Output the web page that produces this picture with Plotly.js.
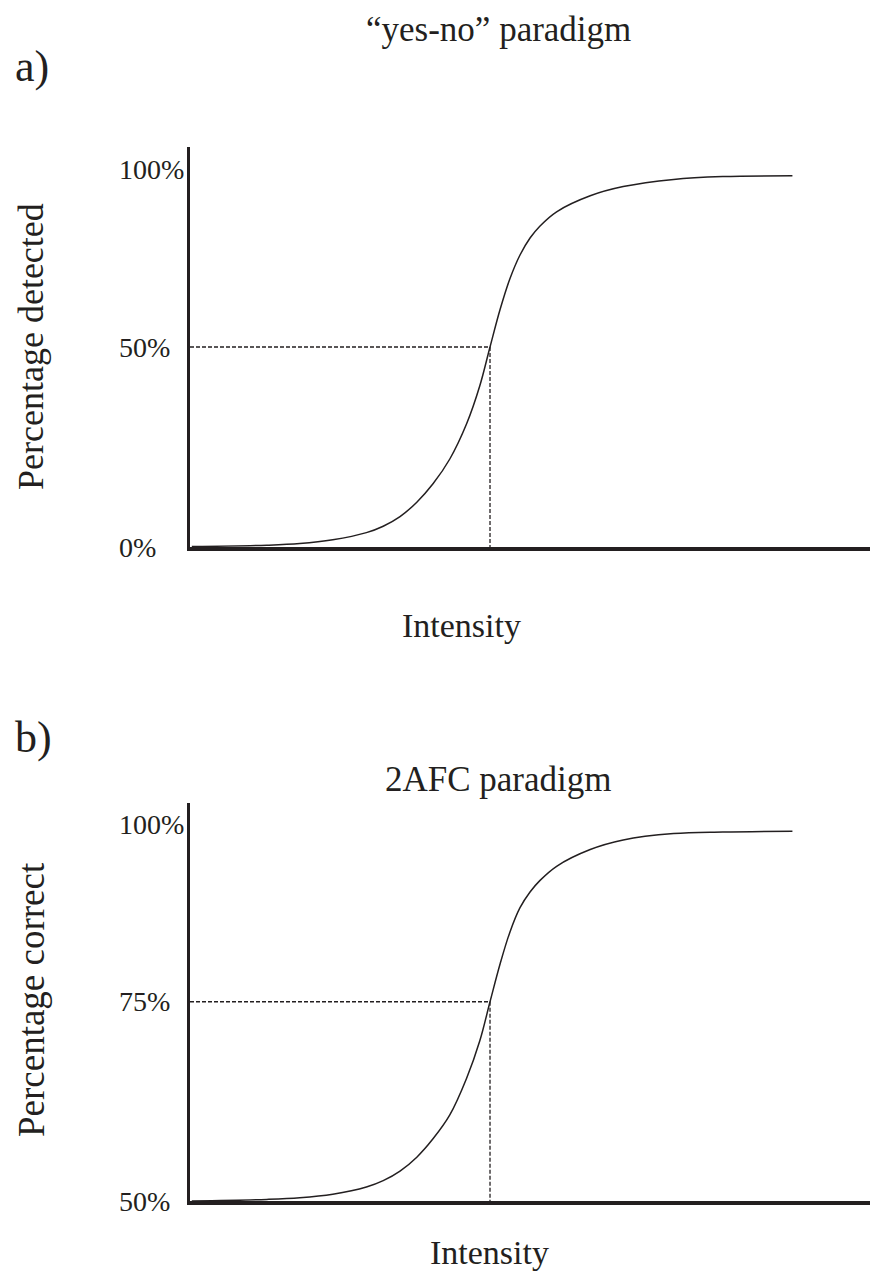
<!DOCTYPE html>
<html>
<head>
<meta charset="utf-8">
<script src="https://cdn.plot.ly/plotly-3.0.1.min.js"></script>
<style>
  html, body { margin: 0; padding: 0; background: #ffffff; }
  #chart { width: 870px; height: 1273px; }
</style>
</head>
<body>
<div id="chart"></div>
<script>
// ---- Data ----
const intensity = [0.03, 1.28, 1.83, 2.38, 2.94, 3.22, 3.5, 3.78, 4.05, 4.33, 4.61, 4.83, 5.0, 5.17, 5.33, 5.5, 5.67, 5.83, 6.11, 6.67, 7.22, 8.06, 8.88, 10.04];
const percentDetected = [0.1, 0.45, 0.85, 1.8, 3.6, 5.2, 7.6, 11.2, 15.8, 22.0, 30.8, 40.3, 50, 59.5, 67.0, 73.0, 77.3, 80.2, 83.8, 87.8, 90.1, 91.9, 92.6, 92.8];
const percentCorrect = [50.0, 50.2, 50.4, 50.85, 51.75, 52.55, 53.75, 55.5, 57.8, 60.8, 65.4, 70.1, 75, 79.8, 83.7, 86.8, 88.8, 90.2, 92.0, 94.1, 95.3, 96.1, 96.3, 96.4];

const thresholdIntensity = 5;
const thresholdDetected = 50;
const thresholdCorrect = 75;

const tickValsA = [0, 50, 94.3];
const tickTextA = ['0%', '50%', '100%'];
const tickValsB = [50, 75, 97.2];
const tickTextB = ['50%', '75%', '100%'];

const titleA = '\u201Cyes-no\u201D paradigm';
const titleB = '2AFC paradigm';
const yTitleA = 'Percentage detected';
const yTitleB = 'Percentage correct';
const xTitle = 'Intensity';

// ---- Styling ----
const W = 870, H = 1273;
const FONT = 'Liberation Serif, Times New Roman, serif';
const INK = '#231f20';
const px = v => v / W;          // pixel -> paper x
const py = v => 1 - v / H;      // pixel -> paper y

const traces = [
  { x: intensity, y: percentDetected, xaxis: 'x', yaxis: 'y', mode: 'lines',
    line: { color: INK, width: 1.5, shape: 'spline', smoothing: 1 }, hoverinfo: 'skip' },
  { x: [0, thresholdIntensity, thresholdIntensity], y: [thresholdDetected, thresholdDetected, 0],
    xaxis: 'x', yaxis: 'y', mode: 'lines',
    line: { color: INK, width: 1.3, dash: '4px,2px' }, hoverinfo: 'skip' },
  { x: intensity, y: percentCorrect, xaxis: 'x2', yaxis: 'y2', mode: 'lines',
    line: { color: INK, width: 1.5, shape: 'spline', smoothing: 1 }, hoverinfo: 'skip' },
  { x: [0, thresholdIntensity, thresholdIntensity], y: [thresholdCorrect, thresholdCorrect, 50],
    xaxis: 'x2', yaxis: 'y2', mode: 'lines',
    line: { color: INK, width: 1.3, dash: '4px,2px' }, hoverinfo: 'skip' }
];

const xAxisBase = {
  range: [0, 11.333], showgrid: false, zeroline: false, showticklabels: false, ticks: '',
  showline: true, linewidth: 4, linecolor: INK, fixedrange: true
};
const yAxisBase = {
  showgrid: false, zeroline: false, showticklabels: false, ticks: '',
  showline: true, linewidth: 3, linecolor: INK, fixedrange: true
};

const annotations = [];
function txt(text, x, y, size, opts) {
  annotations.push(Object.assign({
    text: text, x: x, y: y, xref: 'paper', yref: 'paper',
    xanchor: 'center', yanchor: 'middle', showarrow: false,
    font: { family: FONT, size: size, color: INK }
  }, opts || {}));
}

// Panel a
txt('a)', px(13), py(66), 44, { xanchor: 'left' });
txt(titleA, px(498), py(30), 35);
txt(xTitle, px(462), py(625), 34);
txt(yTitleA, px(31), py(347), 36, { textangle: -90 });
tickValsA.forEach((v, i) => txt(tickTextA[i], px(117), v, 28, { yref: 'y', xanchor: 'left' }));

// Panel b
txt('b)', px(13), py(737), 44, { xanchor: 'left' });
txt(titleB, px(498), py(779), 35);
txt(xTitle, px(489), py(1252), 34);
txt(yTitleB, px(31), py(1000), 37, { textangle: -90 });
tickValsB.forEach((v, i) => txt(tickTextB[i], px(117), v, 28, { yref: 'y2', xanchor: 'left' }));

const layout = {
  width: W, height: H,
  margin: { l: 0, r: 0, t: 0, b: 0, pad: 0 },
  paper_bgcolor: '#ffffff', plot_bgcolor: '#ffffff',
  showlegend: false,
  font: { family: FONT, color: INK },
  xaxis: Object.assign({}, xAxisBase, { domain: [px(190), 1], anchor: 'y' }),
  yaxis: Object.assign({}, yAxisBase, { domain: [py(547), py(147)], range: [0, 100], anchor: 'x' }),
  xaxis2: Object.assign({}, xAxisBase, { domain: [px(190), 1], anchor: 'y2' }),
  yaxis2: Object.assign({}, yAxisBase, { domain: [py(1201), py(802.5)], range: [50, 100], anchor: 'x2' }),
  annotations: annotations
};

Plotly.newPlot('chart', traces, layout, { staticPlot: true, displayModeBar: false });
</script>
</body>
</html>
